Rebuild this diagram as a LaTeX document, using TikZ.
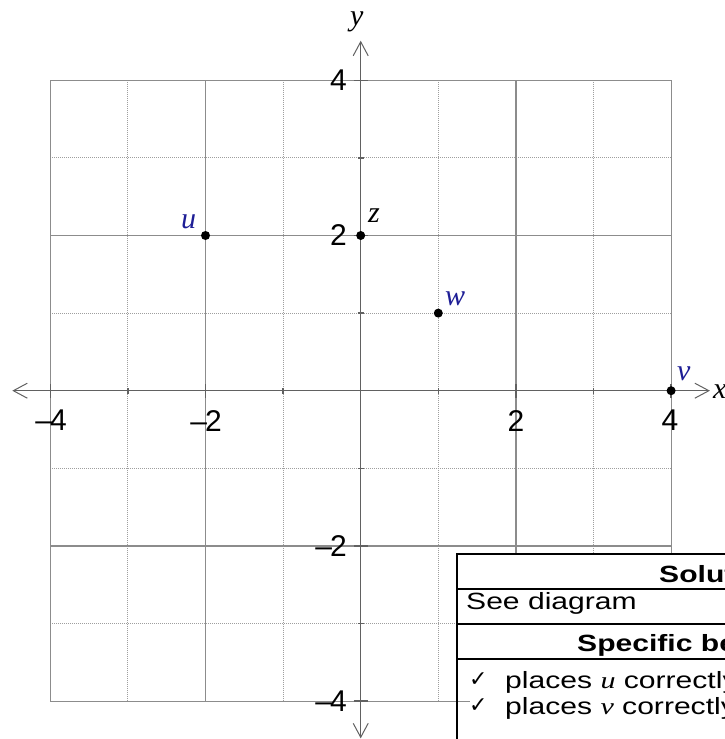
\documentclass[tikz,border=0pt]{standalone}
\usepackage{fontspec}
\setmainfont{Liberation Sans}
\newfontfamily\tnr{Liberation Serif}
\newfontfamily\dejavu{DejaVu Sans}
\usetikzlibrary{arrows.meta}
\definecolor{gridc}{gray}{0.55}
\definecolor{dotc}{gray}{0.62}
\definecolor{axisc}{gray}{0.38}
\definecolor{lblue}{RGB}{30,30,150}
\tikzset{
  majorline/.style={draw=gridc, line width=1.2pt},
  minorline/.style={draw=dotc, line width=0.9pt, dash pattern=on 1pt off 1pt},
  axisline/.style={draw=axisc, line width=1.3pt,
    {Straight Barb[length=14pt,width=15pt,line width=1pt]}-{Straight Barb[length=14pt,width=15pt,line width=1pt]}},
  tickmark/.style={draw=axisc, line width=1.3pt},
  ticklabel/.style={inner sep=0pt, font=\fontsize{30}{30}\selectfont},
  ptdot/.style={circle, fill=black, inner sep=0pt, minimum size=9pt},
  ptlabel/.style={inner sep=0pt, anchor=base west, font=\fontsize{30}{30}\selectfont\tnr\itshape},
  tabtext/.style={inner sep=0pt, anchor=base west, font=\fontsize{23.5}{23.5}\selectfont},
  tabbold/.style={inner sep=0pt, anchor=base west, font=\fontsize{23.5}{23.5}\selectfont\bfseries},
  tabcheck/.style={inner sep=0pt, anchor=base west, font=\fontsize{22}{22}\selectfont\dejavu\bfseries},
  tabline/.style={draw=black, line width=2.2pt},
}
\begin{document}
\begin{tikzpicture}[x=1pt,y=-1pt]
\clip (0,0) rectangle (725,739);
\fill[white] (0,0) rectangle (725,739);
\begin{scope}[xshift=360.7pt, yshift=-390.7pt, x=77.6pt, y=77.6pt]
  \foreach \i in {-3,-1,1,3} {
    \draw[minorline] (\i,-4) -- (\i,4);
    \draw[minorline] (-4,\i) -- (4,\i);
  }
  \foreach \i in {-4,-2,2,4} {
    \draw[majorline] (\i,-4) -- (\i,4);
    \draw[majorline] (-4,\i) -- (4,\i);
  }
  \coordinate (xl) at (-4.49,0);
  \coordinate (xr) at (4.5,0);
  \coordinate (yb) at (0,-4.48);
  \coordinate (yt) at (0,4.51);
  \draw[axisline] (xl) -- (xr);
  \draw[axisline] (yb) -- (yt);
  \foreach \i in {-4,-2,2,4} {
    \draw[tickmark] (\i,-0.09) -- (\i,0.09);
    \draw[tickmark] (-0.09,\i) -- (0.09,\i);
  }
  \foreach \i in {-3,-1,1,3} {
    \draw[tickmark] (\i,-0.04) -- (\i,0.04);
    \draw[tickmark] (-0.04,\i) -- (0.04,\i);
  }
  \node[ptdot] (u) at (-2,2) {};
  \node[ptdot] (z) at (0,2) {};
  \node[ptdot] (w) at (1,1) {};
  \node[ptdot] (v) at (4,0) {};
\end{scope}
% axis labels
\node[ptlabel] (ylab) at (350,25.7) {y};
\node[ptlabel] (xlab) at (713,398) {x};
% point labels
\node[ptlabel, text=lblue] (ulab) at (181,228) {u};
\node[ptlabel] (zlab) at (368,222.3) {z};
\node[ptlabel, text=lblue] (wlab) at (445,305) {w};
\node[ptlabel, text=lblue] (vlab) at (677,380) {v};
% tick labels
\node[ticklabel, anchor=east] (ty4) at (347,80.3) {4};
\node[ticklabel, anchor=east] (ty2) at (347,235.5) {2};
\node[ticklabel, anchor=east] (tym2) at (347,545.9) {\textendash\kern-2pt2};
\node[ticklabel, anchor=east] (tym4) at (347,701.1) {\textendash\kern-2pt4};
\node[ticklabel, anchor=north] (txm4) at (51,410) {\textendash\kern-2pt4};
\node[ticklabel, anchor=north] (txm2) at (206,410) {\textendash\kern-2pt2};
\node[ticklabel, anchor=north] (tx2) at (515.9,410) {2};
\node[ticklabel, anchor=north] (tx4) at (670,410) {4};
% table
\fill[white] (470,554) rectangle (760,760);
\draw[tabline] (457,760) -- (457,554) -- (760,554);
\draw[tabline] (457,589) -- (760,589);
\draw[tabline] (457,624) -- (760,624);
\draw[tabline] (457,659) -- (760,659);
\node[tabbold] (sol) at (659,582) {\scalebox{1.28}[1]{Solution}};
\node[tabtext] (see) at (466,609.3) {\scalebox{1.28}[1]{See diagram}};
\node[tabbold] (spec) at (577,651.7) {\scalebox{1.28}[1]{Specific behaviours}};
\node[tabcheck] (c1) at (469,686) {✓};
\node[tabtext] (r1) at (505,688.3) {\scalebox{1.28}[1]{places {\tnr\itshape u} correctly}};
\node[tabcheck] (c2) at (469,712) {✓};
\node[tabtext] (r2) at (505,714.3) {\scalebox{1.28}[1]{places {\tnr\itshape v} correctly}};
\end{tikzpicture}
\end{document}
